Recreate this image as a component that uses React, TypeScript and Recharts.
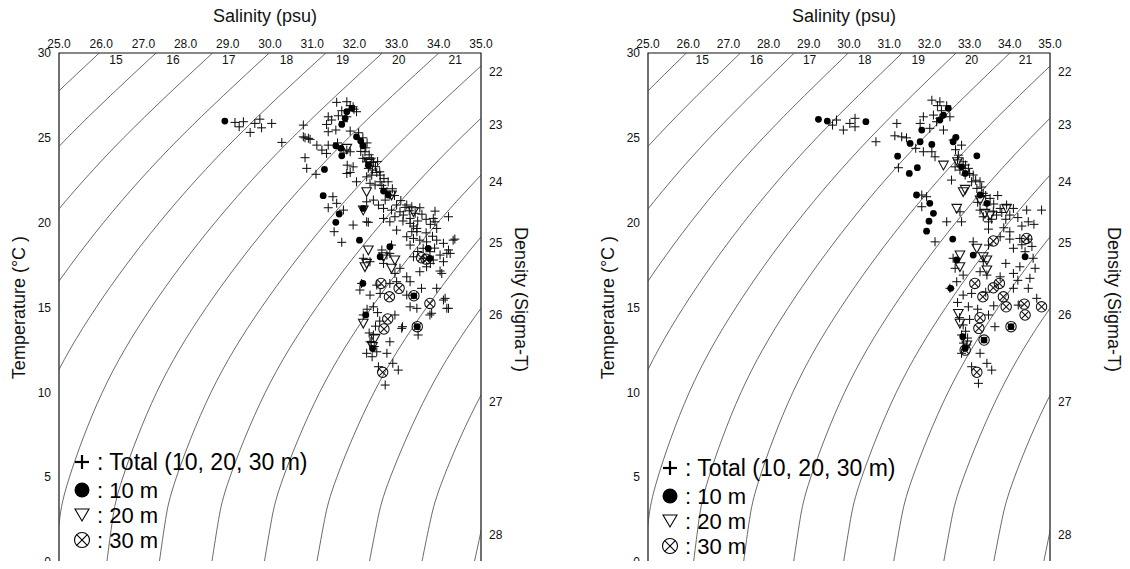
import React from 'react';
import { ScatterChart, Scatter, XAxis, YAxis, ReferenceArea, Legend } from 'recharts';

const FONT = '"Liberation Sans", Arial, Helvetica, sans-serif';

type Pt = [number, number];

// Axis ticks
const salinityTicks = [25, 26, 27, 28, 29, 30, 31, 32, 33, 34, 35];
const temperatureTicks = [0, 5, 10, 15, 20, 25, 30];

// Sigma-T isolines: salinity read at these temperatures
const isoTemps = [0, 2.5, 5, 10, 15, 20, 25, 30];
const isoLevels = [15, 16, 17, 18, 19, 20, 21, 22, 23, 24, 25, 26, 27, 28];
const isoSalinity: number[][] = [
  [18.668, 18.729, 18.905, 19.58, 20.652, 22.088, 23.863, 25.954],
  [19.912, 19.986, 20.174, 20.87, 21.96, 23.411, 25.197, 27.298],
  [21.156, 21.243, 21.442, 22.159, 23.267, 24.733, 26.531, 28.64],
  [22.401, 22.499, 22.711, 23.449, 24.574, 26.054, 27.864, 29.982],
  [23.645, 23.756, 23.979, 24.737, 25.88, 27.375, 29.196, 31.323],
  [24.889, 25.013, 25.247, 26.026, 27.186, 28.695, 30.528, 32.662],
  [26.134, 26.269, 26.515, 27.314, 28.491, 30.015, 31.859, 34.001],
  [27.378, 27.525, 27.783, 28.602, 29.797, 31.334, 33.189, 35.339],
  [28.622, 28.782, 29.05, 29.89, 31.101, 32.653, 34.519, 36.677],
  [29.866, 30.038, 30.318, 31.177, 32.406, 33.971, 35.848],
  [31.11, 31.294, 31.585, 32.464, 33.71, 35.289, 37.18],
  [32.355, 32.55, 32.852, 33.751, 35.013, 36.606],
  [33.599, 33.806, 34.118, 35.037, 36.316],
  [34.843, 35.061, 35.385, 36.323],
];

// Isoline labels along the top edge
const topLabelSal = [26.35, 27.7, 29.02, 30.39, 31.72, 33.05, 34.39];
const topLabelText = ['15', '16', '17', '18', '19', '20', '21'];
const topLabelTemp = 29.58;

// Isoline labels along the right edge
const densityTickTemp = [28.87, 25.75, 22.39, 18.8, 14.56, 9.43, 1.59];
const densityTickText = ['22', '23', '24', '25', '26', '27', '28'];

// ---------- Left panel ----------
const leftTotal: Pt[] = [
  [29.17, 25.91], [29.37, 25.95], [29.27, 25.65], [29.64, 25.85], [29.76, 26.1], [29.8, 25.59], [30.04, 25.85], [29.53, 25.32],
  [30.28, 24.73], [30.79, 25.75], [30.79, 25.06], [30.91, 24.97], [30.83, 25.0], [30.95, 24.91], [31.11, 24.57], [31.23, 24.28],
  [31.34, 24.08], [31.38, 24.57], [30.83, 23.83], [30.87, 23.2], [31.09, 22.85], [31.49, 21.53], [31.58, 21.14], [31.38, 20.88],
  [31.74, 20.74], [31.97, 19.86], [32.33, 20.02], [31.52, 19.47],
  [31.58, 27.09], [31.82, 27.13], [31.97, 26.83], [32.05, 26.54], [31.38, 26.24], [31.62, 26.3], [31.34, 25.79], [31.46, 26.05],
  [31.38, 25.36], [31.56, 25.46], [31.9, 25.4], [31.74, 25.95], [31.82, 26.24], [31.99, 26.69], [31.7, 26.6], [31.9, 26.9],
  [31.82, 24.28], [31.9, 24.18], [31.83, 23.39], [31.97, 23.29], [31.9, 22.96], [31.82, 22.9], [31.6, 24.7], [31.75, 24.1],
  [32.27, 24.41], [32.25, 24.18], [32.2, 23.79], [32.29, 23.59], [32.37, 23.39], [32.45, 23.55], [32.33, 23.2], [32.43, 23.1],
  [32.53, 22.96], [32.61, 22.8], [32.41, 22.8], [32.29, 22.7], [32.05, 22.41], [32.37, 22.32], [32.49, 22.22], [32.61, 22.41],
  [32.8, 22.41], [32.69, 22.02], [32.77, 21.82], [32.84, 21.63], [32.73, 21.33], [32.45, 21.33], [32.29, 21.23], [32.57, 21.04],
  [32.69, 20.84], [32.88, 20.74], [33.0, 21.04], [33.08, 20.64], [33.24, 21.04], [33.36, 20.94], [33.55, 20.88], [33.44, 20.55],
  [33.32, 20.25], [33.16, 20.45], [32.96, 20.35], [32.69, 20.25], [32.84, 20.05], [33.0, 19.56], [33.32, 19.96], [33.48, 19.66],
  [32.29, 20.05], [33.91, 20.68], [33.87, 20.25], [33.91, 20.05], [34.23, 20.35], [33.95, 19.66], [33.36, 19.47], [33.48, 19.47],
  [32.1, 25.3], [32.2, 25.0], [32.3, 24.7], [32.15, 24.2], [32.35, 24.0], [32.4, 23.8], [32.5, 23.3], [32.55, 23.6],
  [32.6, 23.0], [32.7, 22.6], [32.65, 22.2], [32.9, 22.0], [32.95, 21.6], [33.1, 21.3], [33.2, 20.9], [33.3, 20.7],
  [33.6, 20.5], [33.7, 20.2], [33.8, 19.9], [33.7, 19.4], [33.85, 19.2], [33.15, 20.1], [33.5, 20.1], [33.4, 19.8],
  [31.7, 18.84], [33.24, 19.17], [33.4, 19.07], [33.55, 18.97], [33.71, 18.87], [33.95, 18.97], [34.11, 18.78], [34.38, 19.03],
  [34.23, 18.39], [33.63, 18.49], [33.32, 18.68], [33.79, 18.29], [34.03, 18.09], [34.11, 17.7], [33.87, 17.8], [33.63, 17.9],
  [33.4, 17.99], [34.27, 18.19], [33.55, 17.11], [34.03, 17.15], [33.71, 17.4], [33.5, 18.3], [33.9, 18.5], [33.8, 17.6],
  [32.65, 18.39], [32.21, 17.9], [32.37, 17.7], [32.77, 18.09], [32.69, 17.6], [33.08, 17.31], [32.96, 17.01], [32.88, 18.68], [32.84, 18.19],
  [32.17, 16.42], [32.13, 16.03], [32.37, 15.73], [32.61, 15.83], [32.53, 16.32], [32.84, 16.42], [33.0, 16.52], [33.24, 16.81],
  [33.32, 16.52], [33.59, 16.13], [33.95, 16.13], [34.15, 15.54], [34.19, 14.95], [33.79, 14.56], [33.48, 14.95], [33.32, 15.04],
  [33.24, 15.73], [32.21, 14.56], [32.45, 15.04], [32.96, 14.56], [33.14, 13.87], [32.84, 12.98], [32.77, 12.3], [32.29, 12.3],
  [32.45, 13.38], [32.37, 12.98], [32.53, 12.39], [32.91, 11.71], [33.04, 11.31], [32.73, 10.43], [32.57, 11.51],
  [32.4, 13.0], [32.47, 12.7], [32.35, 13.5], [32.5, 13.9], [32.42, 12.1], [32.6, 14.2], [32.3, 14.9], [32.55, 14.7],
  [34.34, 18.97], [34.19, 18.19], [34.07, 17.01], [34.11, 15.44], [34.23, 14.95], [33.83, 14.66], [33.51, 13.38], [33.12, 13.77],
];
const left10m: Pt[] = [
  [28.93, 25.99], [31.29, 23.14], [31.26, 21.59], [31.64, 20.51], [31.56, 20.02], [31.82, 26.54], [31.78, 26.15], [31.7, 25.79],
  [31.94, 26.74], [31.56, 24.53], [31.68, 24.38], [31.7, 23.94], [32.05, 25.06], [32.15, 24.81], [32.2, 24.53], [32.33, 23.39],
  [32.69, 21.86], [32.8, 21.63], [32.21, 20.84], [32.12, 18.97], [33.79, 17.9], [33.75, 18.49], [32.84, 18.58], [32.61, 17.99],
  [32.2, 16.42], [32.27, 14.56], [32.43, 12.59], [33.41, 15.69], [33.49, 13.87],
];
const left20m: Pt[] = [
  [32.29, 21.82], [32.21, 20.74], [32.35, 23.49], [33.4, 20.64], [32.88, 21.63], [32.33, 18.39], [32.25, 17.4], [32.96, 17.8],
  [32.88, 17.31], [32.21, 14.07], [32.49, 13.18], [31.82, 24.38], [32.33, 23.59], [32.29, 17.6], [32.69, 17.99], [32.43, 12.7],
];
const left30m: Pt[] = [
  [33.59, 17.93], [32.63, 16.42], [33.06, 16.13], [32.83, 15.63], [33.41, 15.69], [33.79, 15.24], [32.79, 14.32], [32.7, 13.73],
  [33.49, 13.87], [32.67, 11.18], [33.7, 17.85],
];

// ---------- Right panel ----------
const rightTotal: Pt[] = [
  [29.69, 26.05], [29.59, 25.75], [29.86, 25.46], [30.02, 25.85], [30.15, 26.15], [30.15, 25.65], [30.67, 24.77], [31.19, 25.85],
  [31.14, 25.12], [31.31, 25.06], [31.43, 25.0], [31.23, 23.24], [31.66, 24.38], [31.85, 24.18], [31.81, 21.63], [31.93, 21.53],
  [31.81, 20.94], [32.43, 20.05], [32.8, 20.05], [32.76, 20.64], [32.55, 22.51],
  [32.06, 27.22], [32.26, 27.12], [32.43, 26.89], [32.1, 26.34], [32.26, 26.15], [32.51, 26.24], [31.85, 26.24], [31.77, 25.85],
  [32.01, 25.56], [32.35, 25.46], [32.18, 25.95], [32.06, 24.18], [32.14, 23.88], [32.3, 26.6], [32.2, 26.9],
  [32.59, 24.87], [32.8, 24.57], [32.72, 23.98], [32.84, 23.59], [32.97, 23.2], [32.76, 23.1], [33.09, 22.81], [32.64, 23.29],
  [32.89, 22.81], [33.05, 22.41], [33.26, 22.41], [33.18, 22.02], [33.34, 21.73], [33.51, 21.43], [33.43, 21.04], [33.26, 20.74],
  [33.59, 20.64], [33.76, 20.84], [33.92, 21.04], [34.09, 20.84], [33.67, 20.45], [33.34, 20.35], [33.47, 20.05], [34.0, 20.45],
  [34.42, 20.74], [34.46, 20.05], [34.0, 19.46], [33.47, 19.62], [34.79, 20.74], [34.6, 19.9],
  [32.65, 24.3], [32.7, 23.7], [32.9, 23.4], [33.0, 22.9], [33.15, 22.5], [33.3, 22.1], [33.4, 21.6], [33.6, 21.1],
  [33.8, 20.6], [33.9, 20.2], [34.2, 20.3], [34.3, 19.8], [33.55, 20.2], [33.85, 19.7], [33.2, 21.2], [33.7, 21.6],
  [32.14, 18.87], [33.76, 19.17], [34.0, 19.03], [34.25, 19.07], [34.46, 19.03], [34.09, 18.49], [34.38, 18.29], [34.58, 17.9],
  [34.25, 17.4], [34.63, 17.31], [34.5, 16.72], [34.09, 17.01], [33.76, 16.81], [34.09, 16.13], [34.46, 16.13], [34.67, 15.54],
  [34.21, 15.14], [33.47, 14.56], [33.63, 13.87], [33.26, 12.3], [33.43, 11.71], [33.55, 11.31], [33.22, 10.53], [33.05, 11.51],
  [32.8, 12.3], [32.93, 12.79], [32.8, 13.38], [32.84, 13.97], [32.97, 15.04], [33.05, 15.83], [32.84, 15.73], [32.51, 16.13],
  [32.68, 16.52], [33.43, 16.91], [32.59, 17.9], [32.64, 17.31], [32.84, 16.91], [33.26, 17.11], [33.34, 17.7], [33.47, 18.68],
  [33.09, 18.87], [32.85, 12.9], [32.9, 13.6], [32.75, 14.4], [32.95, 13.2], [33.0, 14.3], [34.3, 18.7], [34.55, 18.6],
  [33.9, 17.6], [34.2, 16.6], [33.6, 15.1], [33.2, 14.9], [33.4, 15.9], [32.7, 15.3],
];
const right10m: Pt[] = [
  [29.24, 26.09], [29.46, 25.99], [30.42, 25.95], [31.52, 24.67], [31.77, 24.77], [31.21, 23.92], [31.7, 23.24], [31.5, 22.9],
  [31.81, 25.46], [32.06, 24.61], [31.68, 21.63], [32.01, 21.14], [32.1, 20.55], [31.99, 20.09], [31.93, 19.5], [32.59, 24.77],
  [33.18, 23.94], [32.35, 26.34], [32.47, 26.74], [32.26, 26.05], [32.8, 23.29], [32.89, 22.9], [33.26, 21.63], [33.43, 21.14],
  [32.58, 19.03], [33.09, 18.09], [32.53, 16.13], [32.68, 17.8], [32.83, 13.28], [32.89, 12.59], [34.38, 17.99], [33.36, 13.08],
  [34.03, 13.87], [32.66, 25.03],
];
const right20m: Pt[] = [
  [32.35, 23.39], [32.84, 21.82], [32.68, 20.84], [33.26, 21.33], [33.38, 20.55], [33.92, 20.84], [33.18, 18.49], [33.43, 17.8],
  [32.76, 18.09], [32.76, 17.4], [33.43, 17.21], [32.72, 14.65], [32.76, 14.07], [32.93, 12.79], [32.7, 23.59], [32.89, 21.96],
  [33.51, 20.45], [33.34, 17.99],
];
const right30m: Pt[] = [
  [33.13, 16.42], [33.59, 16.16], [33.74, 16.42], [33.33, 15.63], [33.84, 15.63], [33.91, 15.04], [34.36, 15.2], [34.38, 14.56],
  [33.26, 14.4], [33.23, 13.77], [33.36, 13.08], [34.03, 13.87], [32.89, 12.49], [33.18, 11.18], [33.59, 18.92], [34.42, 19.07],
  [34.79, 15.04],
];

const toData = (pts: Pt[]) => pts.map(([s, t]) => ({ s, t }));
const isoData = isoSalinity.map((row) => row.map((s, i) => ({ s, t: isoTemps[i] })));
const topLabelData = topLabelSal.map((s, i) => ({ s, t: topLabelTemp, label: topLabelText[i] }));

// ---------- Marker shapes ----------
const NoShape = () => <g />;
const CrossShape = (p: any) => {
  const { cx, cy } = p;
  const r = 4.5;
  return (
    <g stroke="#111" strokeWidth={1.05}>
      <line x1={cx - r} y1={cy} x2={cx + r} y2={cy} />
      <line x1={cx} y1={cy - r} x2={cx} y2={cy + r} />
    </g>
  );
};
const DotShape = (p: any) => <circle cx={p.cx} cy={p.cy} r={3.4} fill="#000" />;
const TriShape = (p: any) => {
  const { cx, cy } = p;
  return (
    <polygon
      points={`${cx - 4.8},${cy - 4} ${cx + 4.8},${cy - 4} ${cx},${cy + 4.8}`}
      fill="none"
      stroke="#111"
      strokeWidth={1.1}
    />
  );
};
const CircleXShape = (p: any) => {
  const { cx, cy } = p;
  const d = 3.6;
  return (
    <g stroke="#111" strokeWidth={1.05} fill="none">
      <circle cx={cx} cy={cy} r={5.2} />
      <line x1={cx - d} y1={cy - d} x2={cx + d} y2={cy + d} />
      <line x1={cx - d} y1={cy + d} x2={cx + d} y2={cy - d} />
    </g>
  );
};
const TopLabelShape = (p: any) => (
  <text x={p.cx} y={p.cy} textAnchor="middle" dominantBaseline="central" fontSize={12} fontFamily={FONT} fill="#111">
    {p.payload?.label}
  </text>
);

// ---------- Legend ----------
const LegendBox = () => (
  <svg width={270} height={112} style={{ display: 'block', overflow: 'visible' }}>
    <g fontFamily={FONT} fill="#000">
      <g stroke="#000" strokeWidth={2.2}>
        <line x1={5} y1={17} x2={19} y2={17} />
        <line x1={12} y1={10} x2={12} y2={24} />
      </g>
      <text x={27} y={17} fontSize={23} dominantBaseline="central">: Total (10, 20, 30 m)</text>
      <circle cx={12} cy={45} r={7.5} fill="#000" />
      <text x={27} y={45} fontSize={22} dominantBaseline="central">: 10 m</text>
      <polygon points="5,64 19,64 12,76" fill="none" stroke="#000" strokeWidth={1.1} />
      <text x={27} y={70} fontSize={22} dominantBaseline="central">: 20 m</text>
      <g stroke="#000" strokeWidth={1.1} fill="none">
        <circle cx={12} cy={95} r={7.5} />
        <line x1={6.7} y1={89.7} x2={17.3} y2={100.3} />
        <line x1={6.7} y1={100.3} x2={17.3} y2={89.7} />
      </g>
      <text x={27} y={95} fontSize={22} dominantBaseline="central">: 30 m</text>
    </g>
  </svg>
);

type PanelProps = {
  total: Pt[];
  m10: Pt[];
  m20: Pt[];
  m30: Pt[];
  marginLeft: number;
  marginRight: number;
  rightAxisWidth: number;
  plotLeft: number;
  plotRight: number;
  densityTitleX: number;
  legendLeft: number;
  legendTop: number;
};

const tickStyle = { fontSize: 12, fill: '#111', fontFamily: FONT };

function Panel(props: PanelProps) {
  const { total, m10, m20, m30, marginLeft, marginRight, rightAxisWidth, plotLeft, plotRight, densityTitleX, legendLeft, legendTop } = props;
  const midY = (53 + 562) / 2;
  const XTitle = () => (
    <text x={(plotLeft + plotRight) / 2 - 5} y={22} textAnchor="middle" fontSize={18} fontFamily={FONT} fill="#111">
      Salinity (psu)
    </text>
  );
  const YTitle = () => (
    <text
      x={plotLeft - 40}
      y={midY}
      textAnchor="middle"
      dominantBaseline="central"
      fontSize={18}
      fontFamily={FONT}
      fill="#111"
      transform={`rotate(-90 ${plotLeft - 40} ${midY})`}
    >
      Temperature (°C )
    </text>
  );
  const DTitle = () => (
    <text
      x={densityTitleX}
      y={midY - 8}
      textAnchor="middle"
      dominantBaseline="central"
      fontSize={18}
      fontFamily={FONT}
      fill="#111"
      transform={`rotate(90 ${densityTitleX} ${midY - 8})`}
    >
      Density (Sigma-T)
    </text>
  );
  return (
    <ScatterChart width={560} height={569} margin={{ top: 33, left: marginLeft, right: marginRight, bottom: 7 }}>
      <XAxis
        type="number"
        dataKey="s"
        orientation="top"
        domain={[25, 35]}
        ticks={salinityTicks}
        allowDataOverflow
        interval={0}
        height={20}
        tickLine={false}
        axisLine={false}
        tickSize={4}
        tickMargin={1}
        tick={tickStyle}
        tickFormatter={(v: number) => v.toFixed(1)}
        label={<XTitle />}
      />
      <YAxis
        yAxisId="left"
        type="number"
        dataKey="t"
        domain={[0, 30]}
        ticks={temperatureTicks}
        allowDataOverflow
        interval={0}
        width={40}
        tickLine={false}
        axisLine={false}
        tick={tickStyle}
        label={<YTitle />}
      />
      <YAxis
        yAxisId="right"
        orientation="right"
        type="number"
        domain={[0, 30]}
        ticks={densityTickTemp}
        allowDataOverflow
        interval={0}
        width={rightAxisWidth}
        tickLine={false}
        axisLine={false}
        tick={tickStyle}
        tickFormatter={(v: number) => densityTickText[densityTickTemp.indexOf(v)] ?? ''}
        label={<DTitle />}
      />
      <ReferenceArea yAxisId="left" x1={25} x2={35} y1={0} y2={30} fill="none" stroke="#111" strokeWidth={1.2} />
      {isoLevels.map((lv, i) => (
        <Scatter
          key={`iso-${lv}`}
          yAxisId="left"
          data={isoData[i]}
          line={{ stroke: '#444', strokeWidth: 0.8 }}
          lineType="joint"
          lineJointType="natural"
          shape={NoShape}
          isAnimationActive={false}
        />
      ))}
      <Scatter yAxisId="left" data={topLabelData} shape={TopLabelShape} isAnimationActive={false} />
      <Scatter yAxisId="left" name="Total (10, 20, 30 m)" data={toData(total)} shape={CrossShape} isAnimationActive={false} />
      <Scatter yAxisId="left" name="30 m" data={toData(m30)} shape={CircleXShape} isAnimationActive={false} />
      <Scatter yAxisId="left" name="20 m" data={toData(m20)} shape={TriShape} isAnimationActive={false} />
      <Scatter yAxisId="left" name="10 m" data={toData(m10)} shape={DotShape} isAnimationActive={false} />
      <Legend
        layout="vertical"
        align="center"
        verticalAlign="middle"
        content={() => <LegendBox />}
        wrapperStyle={{ position: 'absolute', left: legendLeft, top: legendTop, width: 270, height: 112, right: 'auto', bottom: 'auto' }}
      />
    </ScatterChart>
  );
}

export default function App() {
  return (
    <div style={{ position: 'relative', width: 1130, height: 569, margin: -8, background: '#fff', fontFamily: FONT, overflow: 'hidden' }}>
      <div style={{ position: 'absolute', left: 0, top: 0 }}>
        <Panel
          total={leftTotal}
          m10={left10m}
          m20={left20m}
          m30={left30m}
          marginLeft={19}
          marginRight={29}
          rightAxisWidth={50}
          plotLeft={59}
          plotRight={481}
          densityTitleX={521}
          legendLeft={70}
          legendTop={445}
        />
      </div>
      <div style={{ position: 'absolute', left: 570, top: 0 }}>
        <Panel
          total={rightTotal}
          m10={right10m}
          m20={right20m}
          m30={right30m}
          marginLeft={38}
          marginRight={10}
          rightAxisWidth={70}
          plotLeft={78}
          plotRight={480}
          densityTitleX={544}
          legendLeft={88}
          legendTop={451}
        />
      </div>
    </div>
  );
}
